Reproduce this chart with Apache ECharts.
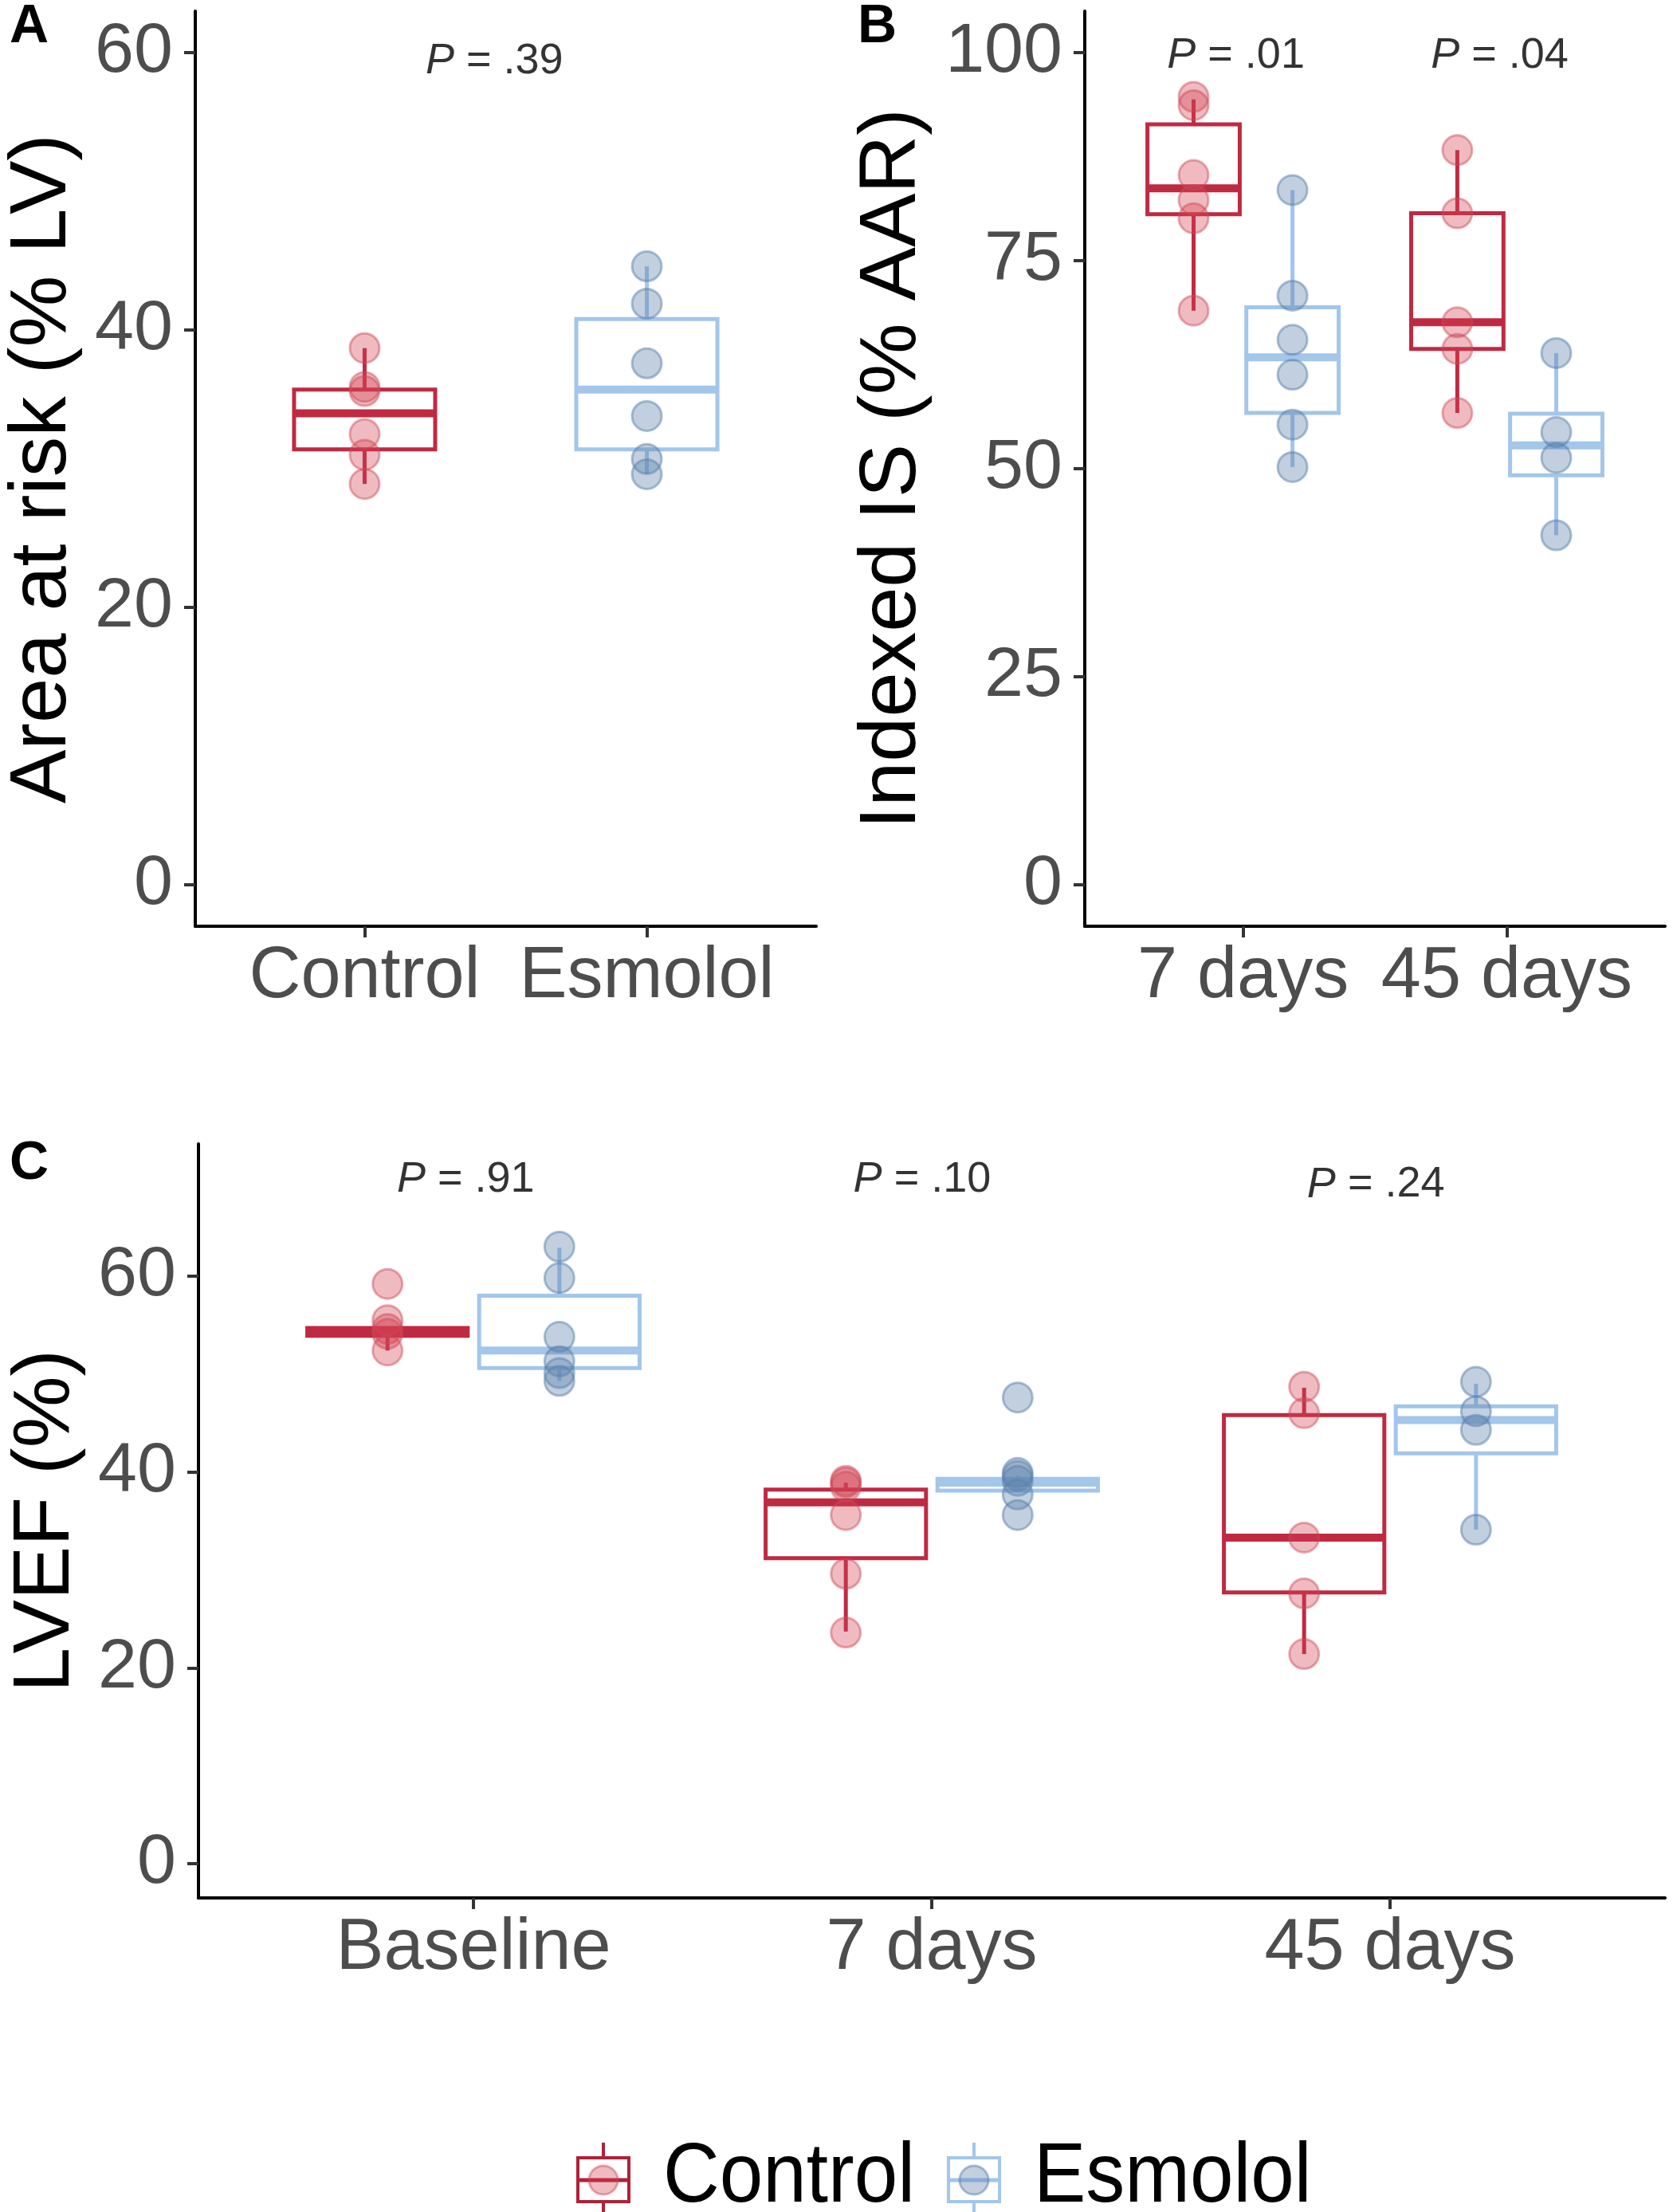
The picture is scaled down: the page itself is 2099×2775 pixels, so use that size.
<!DOCTYPE html>
<html>
<head>
<meta charset="utf-8">
<script src="https://cdn.jsdelivr.net/npm/echarts@6/dist/echarts.min.js"></script>
<style>
html,body{margin:0;padding:0;background:#fff;}
#chart{width:2099px;height:2775px;}
</style>
</head>
<body>
<div id="chart"></div>
<script>
// ---------------- DATA ----------------
// Panel A: Area at risk (% LV)
const catsA = ['Control', 'Esmolol'];
const aarControlPts = [38.7, 35.9, 35.6, 32.5, 31.0, 28.9];
const aarEsmololPts = [44.6, 41.9, 37.6, 33.8, 30.7, 29.6];
// box stats: [lower whisker, Q1, median, Q3, upper whisker]
const aarControlBox = [28.9, 31.4, 34.0, 35.7, 38.7];
const aarEsmololBox = [29.6, 31.4, 35.7, 40.8, 44.6];
const pA = ['.39'];
const yTicksA = [0, 20, 40, 60];

// Panel B: Indexed IS (% AAR)
const catsB = ['7 days', '45 days'];
const isControlPts = [[94.7, 93.7, 85.3, 82.3, 80.1, 69.0], [88.3, 80.7, 67.6, 64.4, 56.7]];
const isEsmololPts = [[83.5, 70.8, 65.5, 61.3, 55.3, 50.2], [63.9, 54.4, 51.3, 42.0]];
const isControlBox = [[69.0, 80.6, 83.7, 91.4, 94.4], [56.7, 64.4, 67.6, 80.7, 88.3]];
const isEsmololBox = [[50.2, 56.7, 63.4, 69.4, 83.5], [42.0, 49.2, 52.8, 56.6, 63.9]];
const pB = ['.01', '.04'];
const yTicksB = [0, 25, 50, 75, 100];

// Panel C: LVEF (%)
const catsC = ['Baseline', '7 days', '45 days'];
const efControlPts = [[59.2, 55.5, 54.6, 54.1, 52.4], [39.1, 38.9, 38.5, 35.6, 29.6, 23.6], [48.7, 46.0, 33.3, 27.6, 21.4]];
const efEsmololPts = [[63.0, 59.8, 53.8, 51.3, 50.1, 49.3], [47.6, 39.9, 39.6, 39.1, 37.7, 35.6], [49.2, 46.2, 44.3, 34.1]];
const efControlBox = [[52.4, 53.9, 54.3, 54.7, 54.7], [23.7, 31.2, 36.9, 38.2, 38.9], [21.4, 27.7, 33.3, 45.8, 48.6]];
const efEsmololBox = [[49.3, 50.6, 52.4, 58.0, 62.9], [38.1, 38.1, 38.9, 39.3, 39.6], [34.1, 41.9, 45.3, 46.7, 49.0]];
const pC = ['.91', '.10', '.24'];
const yTicksC = [0, 20, 40, 60];

const groups = ['Control', 'Esmolol'];

// ---------------- STYLE ----------------
const FONT = 'Liberation Sans';
const RED = '#BF2A42';
const BLUE = '#A3C6EA';
const LEG_RED = '#AE2238';
const PT_FILL = ['rgba(212,67,82,0.36)', 'rgba(92,130,172,0.38)'];
const PT_EDGE = ['rgba(205,70,85,0.45)', 'rgba(92,130,172,0.5)'];
const DODGE = 0.1875;

function makeRender(boxW, color) {
  return function (params, api) {
    const x = api.value(0);
    const lo = api.coord([x, api.value(1)]);
    const q1 = api.coord([x, api.value(2)]);
    const md = api.coord([x, api.value(3)]);
    const q3 = api.coord([x, api.value(4)]);
    const hi = api.coord([x, api.value(5)]);
    const w = api.size([boxW, 0])[0];
    const cx = lo[0];
    return {
      type: 'group',
      children: [
        {type: 'line', shape: {x1: cx, y1: q3[1], x2: cx, y2: hi[1]}, style: {stroke: color, lineWidth: 5}},
        {type: 'line', shape: {x1: cx, y1: q1[1], x2: cx, y2: lo[1]}, style: {stroke: color, lineWidth: 5}},
        {type: 'rect', shape: {x: cx - w / 2, y: q3[1], width: w, height: q1[1] - q3[1]}, style: {fill: '#ffffff', stroke: color, lineWidth: 5}},
        {type: 'line', shape: {x1: cx - w / 2, y1: md[1], x2: cx + w / 2, y2: md[1]}, style: {stroke: color, lineWidth: 10}}
      ]
    };
  };
}

function boxData(boxes, offset) {
  return boxes.map((b, i) => [i + 1 + offset].concat(b));
}
function ptData(pts, offset) {
  const out = [];
  pts.forEach((arr, i) => arr.forEach(v => out.push([i + 1 + offset, v])));
  return out;
}

const series = [];
function addPanel(gi, boxesByGroup, ptsByGroup, offsets, boxW) {
  groups.forEach((g, k) => {
    series.push({
      type: 'custom', name: g, xAxisIndex: gi, yAxisIndex: gi, z: 2,
      renderItem: makeRender(boxW, k === 0 ? RED : BLUE),
      encode: {x: 0, y: [1, 2, 3, 4, 5]},
      data: boxData(boxesByGroup[k], offsets[k]),
      silent: true
    });
  });
  groups.forEach((g, k) => {
    series.push({
      type: 'scatter', name: g, xAxisIndex: gi, yAxisIndex: gi, z: 3,
      symbolSize: 37,
      itemStyle: {color: PT_FILL[k], borderColor: PT_EDGE[k], borderWidth: 3, opacity: 1},
      data: ptData(ptsByGroup[k], offsets[k]),
      silent: true
    });
  });
}
addPanel(0, [[aarControlBox], [aarEsmololBox]], [[aarControlPts], [aarEsmololPts]], [0, 1], 0.5);
addPanel(1, [isControlBox, isEsmololBox], [isControlPts, isEsmololPts], [-DODGE, DODGE], 0.35);
addPanel(2, [efControlBox, efEsmololBox], [efControlPts, efEsmololPts], [-DODGE, DODGE], 0.35);

function pLabels(gi, labels, xs, ys) {
  series.push({
    type: 'scatter', name: 'p' + gi, xAxisIndex: gi, yAxisIndex: gi, z: 5,
    symbolSize: 0, silent: true,
    label: {
      show: true, position: 'inside', color: '#000', fontFamily: FONT, fontSize: 54,
      formatter: p => '{i|P} = ' + p.data.t,
      rich: {i: {fontStyle: 'italic', fontFamily: FONT, fontSize: 54, color: '#000'}}
    },
    data: labels.map((t, i) => ({value: [xs[i], ys[i]], t: t}))
  });
}
pLabels(0, pA, [1.46], [59.4]);
pLabels(1, pB, [0.973, 1.973], [99.6, 99.6]);
pLabels(2, pC, [0.983, 1.979, 2.969], [69.8, 69.8, 69.3]);

function xAxis(gi, cats) {
  const vals = cats.map((c, i) => i + 1);
  return {
    type: 'value', gridIndex: gi, min: 0.4, max: cats.length + 0.6,
    splitLine: {show: false},
    axisLine: {onZero: false, lineStyle: {color: '#000', width: 4}},
    axisTick: {customValues: vals, length: 14, lineStyle: {color: '#333', width: 4}},
    axisLabel: {customValues: vals, formatter: v => cats[Math.round(v) - 1] || '', color: '#4D4D4D', fontFamily: FONT, fontSize: 90, margin: 19}
  };
}
function yAxis(gi, min, max, ticks, name, gap) {
  return {
    type: 'value', gridIndex: gi, min: min, max: max,
    splitLine: {show: false},
    axisLine: {onZero: false, lineStyle: {color: '#000', width: 4}},
    axisTick: {customValues: ticks, length: 14, lineStyle: {color: '#333', width: 4}},
    axisLabel: {customValues: ticks, color: '#4D4D4D', fontFamily: FONT, fontSize: 88, margin: 28},
    name: name, nameLocation: 'middle', nameGap: gap, nameRotate: 90,
    nameTextStyle: {color: '#000', fontFamily: FONT, fontSize: 101}
  };
}

// ----- legend (drawn as graphic elements) -----
function legendItem(x0, color, fill, edge, label, textX) {
  const cx = x0 + 34;
  return [
    {type: 'line', shape: {x1: cx, y1: 2688, x2: cx, y2: 2707}, style: {stroke: color, lineWidth: 4}},
    {type: 'line', shape: {x1: cx, y1: 2762, x2: cx, y2: 2775}, style: {stroke: color, lineWidth: 4}},
    {type: 'rect', shape: {x: x0 + 2, y: 2707, width: 64, height: 55}, style: {fill: '#fff', stroke: color, lineWidth: 4}},
    {type: 'line', shape: {x1: x0 + 2, y1: 2735, x2: x0 + 66, y2: 2735}, style: {stroke: color, lineWidth: 5}},
    {type: 'circle', shape: {cx: cx, cy: 2735, r: 18}, style: {fill: fill, stroke: edge, lineWidth: 3}},
    {type: 'text', x: textX, y: 2733, scaleY: 1.08,
     style: {text: label, fill: '#000', fontSize: 98, fontFamily: FONT, align: 'left', verticalAlign: 'middle'}}
  ];
}

const option = {
  animation: false,
  backgroundColor: '#ffffff',
  title: [
    {text: 'A', left: 12, top: 0, padding: 0, textStyle: {fontFamily: FONT, fontWeight: 'bold', fontSize: 68, color: '#000'}},
    {text: 'B', left: 1076, top: 0, padding: 0, textStyle: {fontFamily: FONT, fontWeight: 'bold', fontSize: 68, color: '#000'}},
    {text: 'C', left: 12, top: 1426, padding: 0, textStyle: {fontFamily: FONT, fontWeight: 'bold', fontSize: 68, color: '#000'}}
  ],
  grid: [
    {left: 245, top: 14, width: 779, height: 1148},
    {left: 1361, top: 14, width: 728, height: 1148},
    {left: 244, top: 1435, width: 1845, height: 946}
  ],
  xAxis: [xAxis(0, catsA), xAxis(1, catsB), xAxis(2, catsC)],
  yAxis: [
    yAxis(0, -3, 63, yTicksA, 'Area at risk (% LV)', 140),
    yAxis(1, -5, 105, yTicksB, 'Indexed IS (% AAR)', 190),
    yAxis(2, -3.5, 73.5, yTicksC, 'LVEF (%)', 140)
  ],
  graphic: [{
    type: 'group', silent: true,
    children: [].concat(
      legendItem(723, LEG_RED, PT_FILL[0], PT_EDGE[0], 'Control', 832),
      legendItem(1188, BLUE, PT_FILL[1], PT_EDGE[1], 'Esmolol', 1297)
    )
  }],
  series: series
};

const chart = echarts.init(document.getElementById('chart'), null, {renderer: 'canvas'});
chart.setOption(option);
</script>
</body>
</html>
